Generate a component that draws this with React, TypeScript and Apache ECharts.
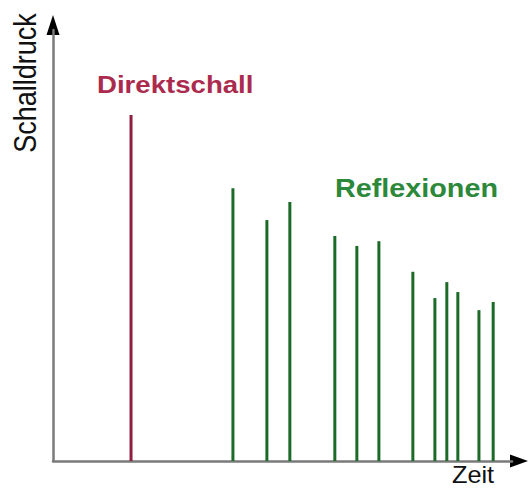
import React, { useEffect, useRef } from "react";
import * as echarts from "echarts";

// Time positions (arbitrary units, 0–100) and sound pressure (0–100)
const directTime = [17.0];
const directLevel = [80.3];
const reflectionTimes = [39.2, 46.6, 51.6, 61.4, 66.2, 71.0, 78.4, 83.2, 85.8, 88.2, 92.8, 95.9];
const reflectionLevels = [63.3, 55.9, 60.1, 52.2, 49.9, 51.0, 43.9, 37.8, 41.5, 39.2, 35.0, 36.9];

const labelDirect = "Direktschall";
const labelReflections = "Reflexionen";
const axisNameY = "Schalldruck";
const axisNameX = "Zeit";

const FONT = "'Liberation Sans', Arial, sans-serif";
const RED_LINE = "#8e1d40";
const RED_TEXT = "#ab2b4e";
const GREEN_LINE = "#1c6a27";
const GREEN_TEXT = "#2c883a";

export default function App() {
  const ref = useRef<HTMLDivElement>(null);
  useEffect(() => {
    if (!ref.current) return;
    const chart = echarts.init(ref.current, undefined, { renderer: "svg" });
    const directData = directTime.map((t, i) => [t, directLevel[i]]);
    const reflData = reflectionTimes.map((t, i) => [t, reflectionLevels[i]]);
    chart.setOption({
      animation: false,
      backgroundColor: "#ffffff",
      grid: { left: 53, right: 18, top: 30, bottom: 27, containLabel: false },
      xAxis: {
        type: "value",
        min: 0,
        max: 100,
        axisLine: { show: true, onZero: false, lineStyle: { color: "#7a7a7a", width: 2.5 } },
        axisTick: { show: false },
        axisLabel: { show: false },
        splitLine: { show: false },
      },
      yAxis: {
        type: "value",
        min: 0,
        max: 100,
        axisLine: { show: true, onZero: false, lineStyle: { color: "#7a7a7a", width: 2.5 } },
        axisTick: { show: false },
        axisLabel: { show: false },
        splitLine: { show: false },
      },
      series: [
        {
          type: "bar",
          data: directData,
          barWidth: 3,
          itemStyle: { color: RED_LINE },
          silent: true,
        },
        {
          type: "bar",
          data: reflData,
          barWidth: 3,
          barGap: "-100%",
          itemStyle: { color: GREEN_LINE },
          silent: true,
        },
      ],
      graphic: [
        {
          type: "polygon",
          shape: { points: [[53, 15], [46.5, 35], [59.5, 35]] },
          style: { fill: "#000" },
        },
        {
          type: "polygon",
          shape: { points: [[528, 461], [510, 454.5], [510, 467.5]] },
          style: { fill: "#000" },
        },
        {
          type: "text",
          x: 97,
          y: 73,
          scaleX: 1.15,
          style: {
            text: labelDirect,
            font: `bold 24px ${FONT}`,
            fill: RED_TEXT,
            textAlign: "left",
            textVerticalAlign: "top",
          },
        },
        {
          type: "text",
          x: 335,
          y: 176,
          scaleX: 1.15,
          style: {
            text: labelReflections,
            font: `bold 25px ${FONT}`,
            fill: GREEN_TEXT,
            textAlign: "left",
            textVerticalAlign: "top",
          },
        },
        {
          type: "text",
          x: 452,
          y: 463,
          scaleX: 1.1,
          style: {
            text: axisNameX,
            font: `23px ${FONT}`,
            fill: "#111",
            textAlign: "left",
            textVerticalAlign: "top",
          },
        },
        {
          type: "text",
          x: 25,
          y: 83,
          rotation: Math.PI / 2,
          scaleY: 1.15,
          style: {
            text: axisNameY,
            font: `27px ${FONT}`,
            fill: "#111",
            textAlign: "center",
            textVerticalAlign: "middle",
          },
        },
      ],
    });
    return () => chart.dispose();
  }, []);
  return <div ref={ref} style={{ width: 530, height: 488, position: "absolute", left: 0, top: 0 }} />;
}
